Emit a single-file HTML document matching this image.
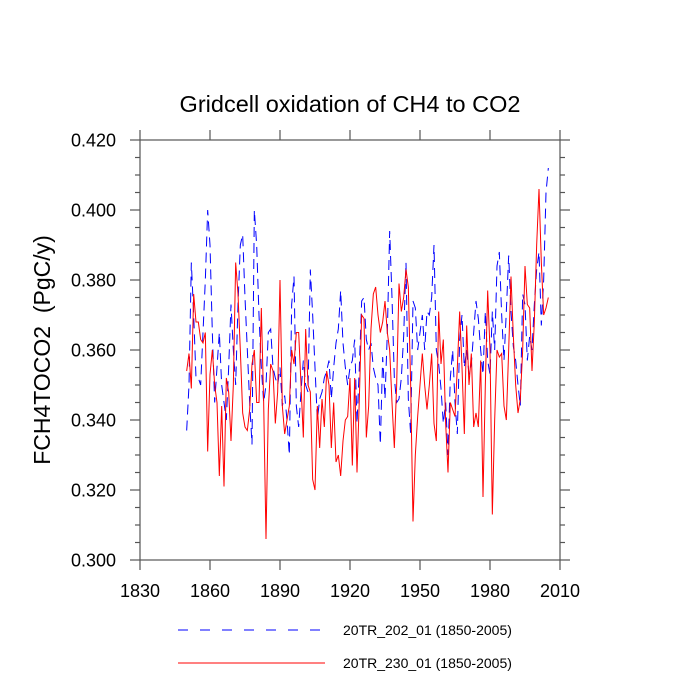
<!DOCTYPE html>
<html><head><meta charset="utf-8"><style>
html,body{margin:0;padding:0;background:#fff;}
svg{display:block;font-family:"Liberation Sans",sans-serif;}
</style></head><body>
<svg id="chart" width="700" height="700" viewBox="0 0 700 700" xmlns="http://www.w3.org/2000/svg">
<rect width="700" height="700" fill="#fff"/>
<text x="350" y="112" text-anchor="middle" font-size="23.5">Gridcell oxidation of CH4 to CO2</text>
<text transform="translate(50,350) rotate(-90)" text-anchor="middle" font-size="23">FCH4TOCO2&#160;&#160;(PgC/y)</text>
<g id="axes"></g>
<g id="series"></g>
<g>
<line x1="178" y1="630" x2="320" y2="630" stroke="#0000ff" stroke-width="1" stroke-dasharray="10,12"/>
<text x="343" y="635" font-size="14">20TR_202_01 (1850-2005)</text>
<line x1="178" y1="663" x2="325" y2="663" stroke="#ff0000" stroke-width="1"/>
<text x="343" y="668" font-size="14">20TR_230_01 (1850-2005)</text>
</g>
</svg>
<script>
const startYear = 1850;
const seriesBlue = [
.337,.350,.385,.370,.352,.352,.350,.365,.380,.400,
.390,.365,.345,.355,.365,.350,.345,.340,.355,.373,
.360,.350,.373,.390,.393,.375,.360,.345,.333,.400,
.390,.370,.355,.345,.350,.365,.366,.355,.352,.350,
.355,.344,.347,.340,.330,.373,.381,.344,.338,.348,
.357,.350,.348,.383,.370,.355,.340,.346,.348,.352,
.354,.357,.346,.355,.362,.366,.377,.362,.355,.350,
.355,.357,.363,.339,.355,.374,.375,.363,.360,.362,
.355,.352,.350,.333,.358,.346,.365,.394,.375,.352,
.345,.346,.352,.364,.385,.346,.336,.374,.372,.360,
.365,.370,.360,.371,.370,.375,.390,.360,.356,.349,
.339,.345,.330,.352,.360,.345,.336,.363,.370,.355,
.360,.353,.356,.365,.374,.369,.360,.353,.371,.357,
.353,.371,.360,.384,.388,.370,.357,.371,.387,.371,
.361,.357,.350,.344,.376,.373,.357,.364,.360,.373,
.383,.388,.367,.380,.405,.412];
const seriesRed = [
.354,.359,.349,.376,.368,.368,.363,.362,.365,.331,
.353,.360,.350,.345,.324,.344,.321,.352,.348,.334,
.350,.385,.376,.360,.342,.338,.337,.343,.356,.360,
.345,.345,.372,.345,.306,.343,.356,.354,.339,.348,
.380,.344,.336,.340,.344,.360,.356,.365,.365,.350,
.335,.366,.350,.348,.323,.320,.344,.332,.346,.338,
.354,.350,.332,.345,.328,.330,.324,.334,.340,.341,
.352,.327,.352,.325,.346,.370,.369,.335,.344,.366,
.376,.378,.370,.365,.368,.374,.365,.360,.345,.332,
.350,.379,.371,.375,.383,.378,.350,.311,.330,.341,
.350,.359,.350,.343,.350,.359,.339,.334,.371,.356,
.363,.339,.325,.345,.343,.341,.355,.371,.355,.336,
.367,.350,.359,.338,.342,.338,.357,.318,.350,.377,
.360,.313,.340,.360,.358,.359,.344,.340,.360,.381,
.364,.350,.342,.346,.360,.384,.373,.372,.354,.368,
.390,.406,.385,.370,.372,.375];
const xTicks = [1830,1860,1890,1920,1950,1980,2010];
const yTicks = [0.300,0.320,0.340,0.360,0.380,0.400,0.420];

const L=140,R=560,T=140,B=560;
const xMin=1830,xMax=2010,yMin=0.300,yMax=0.420;
function xs(v){return L+(v-xMin)/(xMax-xMin)*(R-L);}
function ys(v){return B-(v-yMin)/(yMax-yMin)*(B-T);}
const NS="http://www.w3.org/2000/svg";
function mk(tag,attrs,parent){const e=document.createElementNS(NS,tag);for(const k in attrs)e.setAttribute(k,attrs[k]);parent.appendChild(e);return e;}
const axes=document.getElementById('axes');
const frame=mk('rect',{x:L,y:T,width:R-L,height:B-T,fill:'none',stroke:'#555','stroke-width':1.2},axes);


xTicks.forEach(t=>{
  const x=xs(t);
  const a=mk('line',{x1:x,y1:B,x2:x,y2:B+10,stroke:'#555','stroke-width':1.2},axes);
  
  
  const b=mk('line',{x1:x,y1:T,x2:x,y2:T-10,stroke:'#555','stroke-width':1.2},axes);
  
  
  const tx=mk('text',{x:x,y:B+37,'text-anchor':'middle','font-size':18},axes);
  tx.textContent=t;
  
  
});
for(let v=0.300;v<=0.4201;v+=0.005){
  const major=Math.abs(Math.round(v*1000)%20)<0.5;
  const y=ys(v), len=major?10:5;
  const a=mk('line',{x1:L,y1:y,x2:L-len,y2:y,stroke:'#555','stroke-width':1.2},axes);
  
  
  const b=mk('line',{x1:R,y1:y,x2:R+len,y2:y,stroke:'#555','stroke-width':1.2},axes);
  
  
}
yTicks.forEach(t=>{
  const tx=mk('text',{x:L-24,y:ys(t)+6.5,'text-anchor':'end','font-size':18},axes);
  tx.textContent=t.toFixed(3);
  
  
});
const ser=document.getElementById('series');
function pts(arr){return arr.map((v,i)=>xs(startYear+i).toFixed(2)+','+ys(v).toFixed(2)).join(' ');}
const pb=mk('polyline',{points:pts(seriesBlue),fill:'none',stroke:'#0000ff','stroke-width':1,'stroke-dasharray':'10,6'},ser);


const pr=mk('polyline',{points:pts(seriesRed),fill:'none',stroke:'#ff0000','stroke-width':1},ser);


</script>
</body></html>
